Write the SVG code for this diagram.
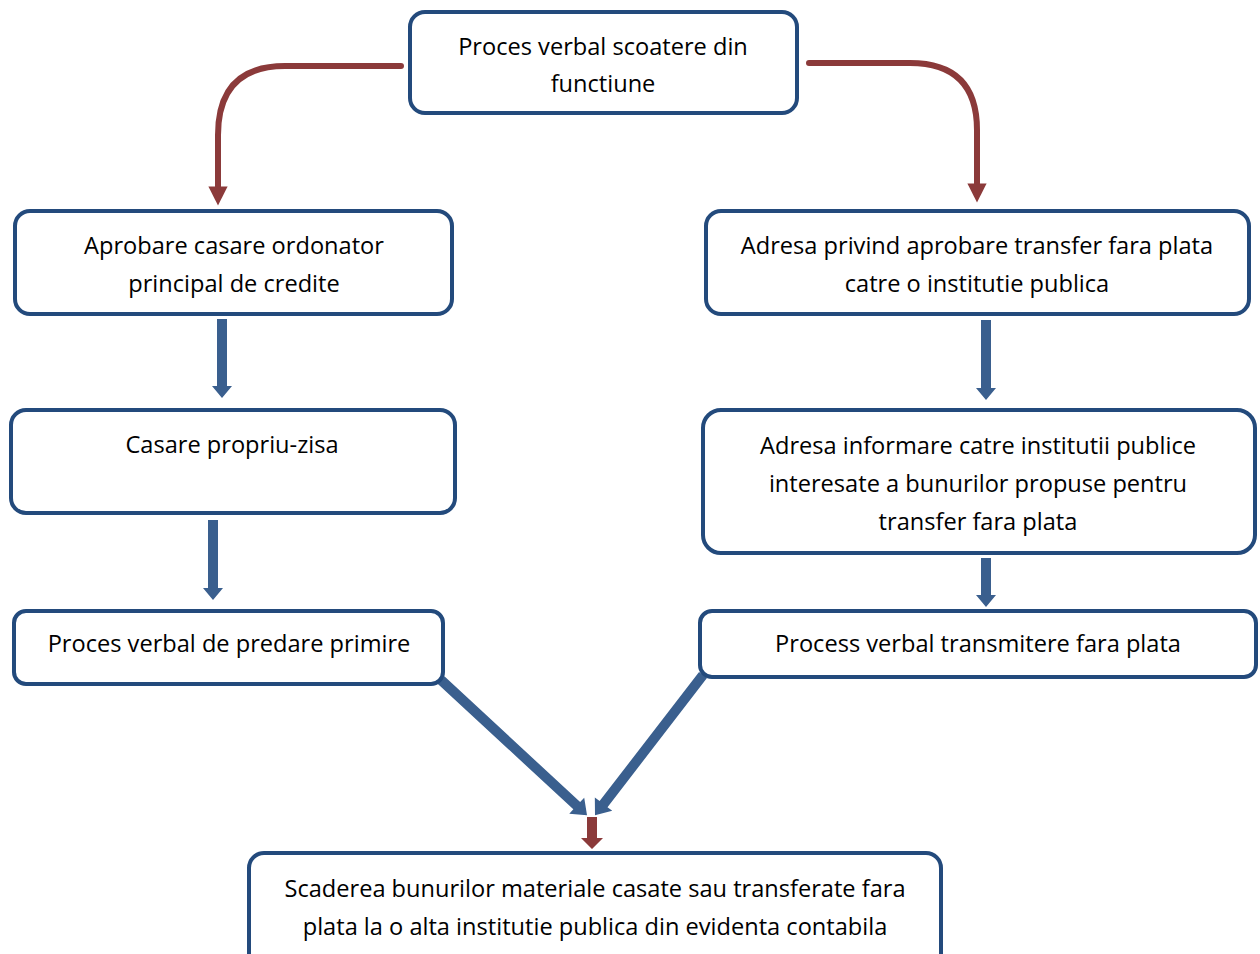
<svg xmlns="http://www.w3.org/2000/svg" width="1260" height="954" viewBox="0 0 1260 954">
<style>
.box{fill:#fff;stroke:#234a7c;stroke-width:4}
.t{font-family:"Open Sans","Noto Sans",sans-serif;font-size:23.6px;fill:#000;text-anchor:middle}
.red{fill:none;stroke:#8b3a3a;stroke-width:6;stroke-linecap:round}
.blue{fill:#3a5f8e}
.redf{fill:#8b3a3a}
</style>
<defs>
<marker id="rh" viewBox="0 0 10 10" refX="5" refY="5" markerWidth="3.2" markerHeight="3.2" orient="auto" markerUnits="strokeWidth">
<path d="M0,0 L10,5 L0,10 Z" fill="#8b3a3a"/>
</marker>
</defs>
<rect width="1260" height="954" fill="#fff"/>
<g id="connectors">
<path class="red" d="M401,66 H285 Q218,66 218,135 V196" marker-end="url(#rh)"/>
<path class="red" d="M809,63 H910 Q977,63 977,130 V193" marker-end="url(#rh)"/>
<path class="blue" d="M217,319 H227 V386 H232 L222,398 L212,386 H217 Z"/>
<path class="blue" d="M208,520 H218 V588 H223 L213,600 L203,588 H208 Z"/>
<path class="blue" d="M981,320 H991 V388 H996 L986,400 L976,388 H981 Z"/>
<path class="blue" d="M981,558 H991 V595 H996 L986,607 L976,595 H981 Z"/>
<path class="blue" transform="translate(441,680) rotate(42.8)" d="M0,-5 H185 V-11 L199,0 L185,11 V5 H0 Z"/>
<path class="blue" transform="translate(703,675) rotate(127.6)" d="M0,-5 H163 V-11 L177,0 L163,11 V5 H0 Z"/>
<path class="redf" d="M587,817 H597 V838 H603 L592,849 L581,838 H587 Z"/>
</g>
<g id="n1">
<rect class="box" x="410" y="12" width="387" height="101" rx="15"/>
<text class="t" x="603" y="55">Proces verbal scoatere din</text>
<text class="t" x="603" y="92">functiune</text>
</g>
<g id="n2">
<rect class="box" x="15" y="211" width="437" height="103" rx="15"/>
<text class="t" x="234" y="254">Aprobare casare ordonator</text>
<text class="t" x="234" y="292">principal de credite</text>
</g>
<g id="n3">
<rect class="box" x="11" y="410" width="444" height="103" rx="15"/>
<text class="t" x="232" y="453">Casare propriu-zisa</text>
</g>
<g id="n4">
<rect class="box" x="14" y="611" width="429" height="73" rx="12"/>
<text class="t" x="229" y="652">Proces verbal de predare primire</text>
</g>
<g id="n5">
<rect class="box" x="706" y="211" width="543" height="103" rx="15"/>
<text class="t" x="977" y="254">Adresa privind aprobare transfer fara plata</text>
<text class="t" x="977" y="292">catre o institutie publica</text>
</g>
<g id="n6">
<rect class="box" x="703" y="410" width="552" height="143" rx="18"/>
<text class="t" x="978" y="454">Adresa informare catre institutii publice</text>
<text class="t" x="978" y="492">interesate a bunurilor propuse pentru</text>
<text class="t" x="978" y="530">transfer fara plata</text>
</g>
<g id="n7">
<rect class="box" x="700" y="611" width="556" height="66" rx="12"/>
<text class="t" x="978" y="652">Process verbal transmitere fara plata</text>
</g>
<g id="n8">
<rect class="box" x="249" y="853" width="692" height="120" rx="15"/>
<text class="t" x="595" y="897">Scaderea bunurilor materiale casate sau transferate fara</text>
<text class="t" x="595" y="935">plata la o alta institutie publica din evidenta contabila</text>
</g>
</svg>
